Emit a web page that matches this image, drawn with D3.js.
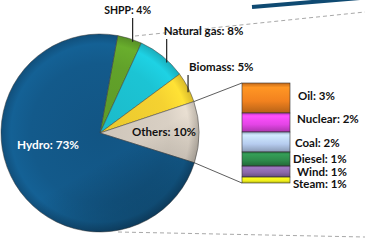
<!DOCTYPE html>
<html>
<head>
<meta charset="utf-8">
<script src="https://cdn.jsdelivr.net/npm/d3@7"></script>
<style>
  body { margin: 0; background: #fff; }
  svg { display: block; font-family: Lato, "Open Sans", sans-serif; font-weight: bold; }
</style>
</head>
<body>
<svg id="chart"></svg>
<script>
// main pie
const pieLabels = ['SHPP', 'Natural gas', 'Biomass', 'Others', 'Hydro'];
const pieValues = [4, 8, 5, 10, 73];
const pieColors = ['#62a22a', '#1cc4d4', '#f5d231', '#d9d0c4', '#135a8b'];

// breakdown of "Others"
const otherLabels = ['Oil', 'Nuclear', 'Coal', 'Diesel', 'Wind', 'Steam'];
const otherShown = [3, 2, 2, 1, 1, 1];
const otherValues = [3.0, 1.9, 2.0, 1.4, 1.1, 0.6];
const otherColors = ['#f2821f', '#e445e6', '#b6ccef', '#2e8a4b', '#8a68a8', '#f0ef1c'];

const width = 365, height = 241;
const svg = d3.select('#chart').attr('width', width).attr('height', height);
const defs = svg.append('defs');

// background decorations
svg.append('line').attr('x1', 252).attr('y1', 7).attr('x2', 372).attr('y2', -3)
  .attr('stroke', '#0f4a72').attr('stroke-width', 4);
svg.append('line').attr('x1', 135).attr('y1', 36).attr('x2', 365).attr('y2', 12)
  .attr('stroke', '#a8a8a8').attr('stroke-width', 1).attr('stroke-dasharray', '4,3');
svg.append('line').attr('x1', 118).attr('y1', 232).attr('x2', 365).attr('y2', 237)
  .attr('stroke', '#a8a8a8').attr('stroke-width', 1).attr('stroke-dasharray', '4,3');

// pie
const cx = 100, cy = 133, r = 99;
const a0 = 10.3 * Math.PI / 180;
const pie = d3.pie().sort(null).value(d => d).startAngle(a0).endAngle(a0 + 2 * Math.PI);
const arcs = pie(pieValues);
const arc = d3.arc().innerRadius(0).outerRadius(r);

// gradients live in the pie group's own (translated) coordinates
pieColors.forEach((c, i) => {
  const g = defs.append('radialGradient').attr('id', 'pg' + i)
    .attr('gradientUnits', 'userSpaceOnUse')
    .attr('cx', 0).attr('cy', 0).attr('r', r);
  g.append('stop').attr('offset', '0%').attr('stop-color', d3.color(c).darker(0.15));
  g.append('stop').attr('offset', '70%').attr('stop-color', c);
  g.append('stop').attr('offset', '90%').attr('stop-color', d3.color(c).brighter(0.2));
  g.append('stop').attr('offset', '100%').attr('stop-color', d3.color(c).darker(0.35));
});
const shade = defs.append('linearGradient').attr('id', 'shade')
  .attr('gradientUnits', 'userSpaceOnUse')
  .attr('x1', -40).attr('y1', -60).attr('x2', 50).attr('y2', 95);
shade.append('stop').attr('offset', '0%').attr('stop-color', '#000').attr('stop-opacity', 0);
shade.append('stop').attr('offset', '55%').attr('stop-color', '#000').attr('stop-opacity', 0);
shade.append('stop').attr('offset', '100%').attr('stop-color', '#000').attr('stop-opacity', 0.3);

const pg = svg.append('g').attr('transform', `translate(${cx},${cy})`);
pg.selectAll('path.slice').data(arcs).enter().append('path')
  .attr('class', 'slice')
  .attr('d', arc)
  .attr('fill', (d, i) => `url(#pg${i})`)
  .attr('stroke', '#3a3a3a').attr('stroke-width', 0.5);
pg.append('path').attr('d', arc({ startAngle: 0, endAngle: 2 * Math.PI }))
  .attr('fill', 'url(#shade)').attr('pointer-events', 'none');

// outside labels with leader lines
const outside = [
  { i: 0, ty: 14, anchor: 'middle', dx: -5, size: 10.5 },
  { i: 1, ty: 35, anchor: 'start', dx: -3, size: 11.5 },
  { i: 2, ty: 71, anchor: 'start', dx: 1, size: 11.5 }
];
outside.forEach(o => {
  const a = arcs[o.i];
  const ang = a.startAngle + 0.65 * (a.endAngle - a.startAngle);
  const px = cx + 97 * Math.sin(ang), py = cy - 97 * Math.cos(ang);
  svg.append('line').attr('x1', px).attr('y1', py).attr('x2', px).attr('y2', o.ty + 4)
    .attr('stroke', '#222').attr('stroke-width', 1.2);
  svg.append('text').attr('x', px + o.dx).attr('y', o.ty)
    .attr('text-anchor', o.anchor).attr('font-size', o.size).attr('fill', '#111')
    .text(`${pieLabels[o.i]}: ${pieValues[o.i]}%`);
});

// inside labels
const othersPos = d3.arc().innerRadius(64).outerRadius(64).centroid(arcs[3]);
svg.append('text').attr('x', cx + othersPos[0]).attr('y', cy + othersPos[1] + 4)
  .attr('text-anchor', 'middle').attr('font-size', 11.5).attr('fill', '#111')
  .text(`${pieLabels[3]}: ${pieValues[3]}%`);
svg.append('text').attr('x', cx - 52).attr('y', cy + 16)
  .attr('text-anchor', 'middle').attr('font-size', 11.8).attr('fill', '#fff')
  .text(`${pieLabels[4]}: ${pieValues[4]}%`);

// stacked bar for "Others"
const bx = 242, bw = 48;
const y = d3.scaleLinear().domain([0, d3.sum(otherValues)]).range([83, 183]);
const cum = d3.cumsum(otherValues);
const segs = otherValues.map((v, i) => ({ y0: cum[i] - v, y1: cum[i], i }));

otherColors.forEach((c, i) => {
  const g = defs.append('linearGradient').attr('id', 'bg' + i)
    .attr('x1', 0).attr('y1', 0).attr('x2', 0).attr('y2', 1);
  g.append('stop').attr('offset', '0%').attr('stop-color', d3.color(c).darker(0.6));
  g.append('stop').attr('offset', '15%').attr('stop-color', d3.color(c).brighter(0.4));
  g.append('stop').attr('offset', '60%').attr('stop-color', c);
  g.append('stop').attr('offset', '100%').attr('stop-color', d3.color(c).darker(0.8));
});

svg.selectAll('.seg').data(segs).enter().append('rect')
  .attr('class', 'seg')
  .attr('x', bx).attr('width', bw)
  .attr('y', d => y(d.y0)).attr('height', d => y(d.y1) - y(d.y0))
  .attr('fill', d => `url(#bg${d.i})`)
  .attr('stroke', '#333').attr('stroke-width', 0.6);

// connectors from Others slice to bar
const oa = arcs[3];
[[oa.startAngle, y(0)], [oa.endAngle, y(d3.sum(otherValues))]].forEach(([ang, by]) => {
  svg.append('line')
    .attr('x1', cx + r * Math.sin(ang)).attr('y1', cy - r * Math.cos(ang))
    .attr('x2', bx).attr('y2', by)
    .attr('stroke', '#333').attr('stroke-width', 0.8);
});

const nudge = [-2, -4, 1, 0, 0, 4];
svg.selectAll('.bl').data(segs).enter().append('text')
  .attr('class', 'bl')
  .attr('x', (d, i) => [298, 297, 295, 293, 297, 293][i])
  .attr('y', d => (y(d.y0) + y(d.y1)) / 2 + nudge[d.i] + 4)
  .attr('font-size', 11.5).attr('fill', '#111')
  .text(d => `${otherLabels[d.i]}: ${otherShown[d.i]}%`);
</script>
</body>
</html>
